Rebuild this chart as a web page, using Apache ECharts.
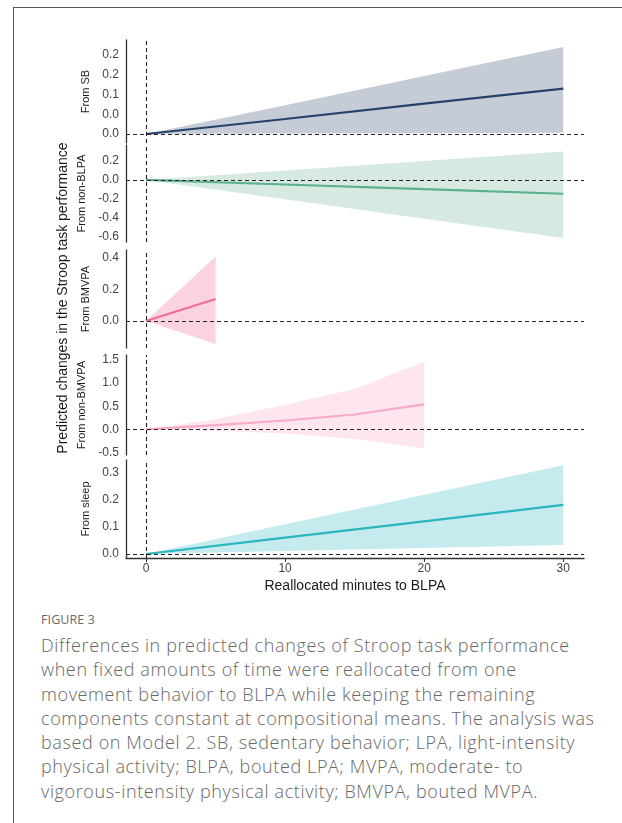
<!DOCTYPE html>
<html>
<head>
<meta charset="utf-8">
<script src="https://cdn.jsdelivr.net/npm/echarts@6/dist/echarts.min.js"></script>
<style>
  html, body { margin: 0; padding: 0; background: #fff; }
  #frame { position: absolute; left: 13px; top: 7px; width: 700px; height: 900px;
           border-left: 1px solid #555; border-top: 1px solid #555; }
  #chart { position: absolute; left: 0; top: 0; width: 622px; height: 600px; }
  #figlabel { position: absolute; left: 41px; top: 611px; font-family: "Open Sans", sans-serif;
              font-size: 12.5px; color: #6a6a6a; letter-spacing: 0.1px; }
  #caption { position: absolute; left: 41px; top: 633px; font-family: "Open Sans", sans-serif;
             font-weight: 300; font-size: 18px; line-height: 24.3px; color: #676767;
             letter-spacing: 0.62px; white-space: nowrap; }
</style>
</head>
<body>
<div id="frame"></div>
<div id="chart"></div>
<div id="figlabel">FIGURE 3</div>
<div id="caption">Differences in predicted changes of Stroop task performance<br>when fixed amounts of time were reallocated from one<br>movement behavior to BLPA while keeping the remaining<br>components constant at compositional means. The analysis was<br>based on Model 2. SB, sedentary behavior; LPA, light-intensity<br>physical activity; BLPA, bouted LPA; MVPA, moderate- to<br>vigorous-intensity physical activity; BMVPA, bouted MVPA.</div>
<script>
// Reallocated minutes (x) and predicted change estimates with 95% bands
const panelNames = ['From SB', 'From non-BLPA', 'From BMVPA', 'From non-BMVPA', 'From sleep'];

const sbMinutes = [0, 10, 20, 30];
const sbEst   = [0, 0.038, 0.077, 0.115];
const sbLow   = [0, 0.001, 0.002, 0.003];
const sbHigh  = [0, 0.073, 0.147, 0.22];

const nblpaMinutes = [0, 10, 20, 30];
const nblpaEst  = [0, -0.048, -0.097, -0.145];
const nblpaLow  = [0, -0.203, -0.407, -0.61];
const nblpaHigh = [0, 0.10, 0.20, 0.30];

const bmvpaMinutes = [0, 5];
const bmvpaEst  = [0, 0.14];
const bmvpaLow  = [0, -0.146];
const bmvpaHigh = [0, 0.41];

const nbmvpaMinutes = [0, 5, 10, 15, 20];
const nbmvpaEst  = [0, 0.09, 0.19, 0.32, 0.54];
const nbmvpaLow  = [0, -0.03, -0.09, -0.21, -0.41];
const nbmvpaHigh = [0, 0.22, 0.53, 0.87, 1.46];

const sleepMinutes = [0, 10, 20, 30];
const sleepEst  = [0, 0.06, 0.12, 0.18];
const sleepLow  = [0, 0.011, 0.022, 0.033];
const sleepHigh = [0, 0.109, 0.217, 0.326];

// y tick values and their printed labels per panel
const sbTicks = [0, 0.05, 0.1, 0.15, 0.2];
const sbTickLabels = ['0.0', '0.0', '0.1', '0.2', '0.2'];
const nblpaTicks = [-0.6, -0.4, -0.2, 0, 0.2];
const nblpaTickLabels = ['-0.6', '-0.4', '-0.2', '0.0', '0.2'];
const bmvpaTicks = [0, 0.2, 0.4];
const bmvpaTickLabels = ['0.0', '0.2', '0.4'];
const nbmvpaTicks = [-0.5, 0, 0.5, 1.0, 1.5];
const nbmvpaTickLabels = ['-0.5', '0.0', '0.5', '1.0', '1.5'];
const sleepTicks = [0, 0.1, 0.2, 0.3];
const sleepTickLabels = ['0.0', '0.1', '0.2', '0.3'];

const xTicks = [0, 10, 20, 30];
const xTickLabels = ['0', '10', '20', '30'];

const panels = [
  { x: sbMinutes, est: sbEst, low: sbLow, high: sbHigh, ticks: sbTicks, labels: sbTickLabels,
    top: 40, bottom: 143, min: -0.0228, max: 0.238, band: '#c6ccd6', line: '#27416a' },
  { x: nblpaMinutes, est: nblpaEst, low: nblpaLow, high: nblpaHigh, ticks: nblpaTicks, labels: nblpaTickLabels,
    top: 145, bottom: 242, min: -0.653, max: 0.368, band: '#d6eae1', line: '#5cb08b' },
  { x: bmvpaMinutes, est: bmvpaEst, low: bmvpaLow, high: bmvpaHigh, ticks: bmvpaTicks, labels: bmvpaTickLabels,
    top: 250, bottom: 348, min: -0.171, max: 0.451, band: '#fbd2e0', line: '#f06c9a' },
  { x: nbmvpaMinutes, est: nbmvpaEst, low: nbmvpaLow, high: nbmvpaHigh, ticks: nbmvpaTicks, labels: nbmvpaTickLabels,
    top: 355, bottom: 455, min: -0.556, max: 1.608, band: '#fde6ee', line: '#f8aac8' },
  { x: sleepMinutes, est: sleepEst, low: sleepLow, high: sleepHigh, ticks: sleepTicks, labels: sleepTickLabels,
    top: 460, bottom: 558, min: -0.0147, max: 0.345, band: '#c6ebee', line: '#2bb6bf' }
];

const grids = [], xAxes = [], yAxes = [], series = [];
const dash = { type: [4, 3], color: '#262626', width: 1.1 };

// Confidence band: one polygon through the upper edge and back along the lower edge
function bandRenderer(p) {
  return function (params, api) {
    if (params.dataIndexInside !== 0) return null;
    const pts = [];
    for (let k = 0; k < p.x.length; k++) pts.push(api.coord([p.x[k], p.high[k]]));
    for (let k = p.x.length - 1; k >= 0; k--) pts.push(api.coord([p.x[k], p.low[k]]));
    return {
      type: 'polygon',
      shape: { points: pts },
      style: { fill: p.band, stroke: null }
    };
  };
}

panels.forEach((p, i) => {
  const last = i === panels.length - 1;
  grids.push({ left: 126, right: 38, top: p.top, height: p.bottom - p.top });
  xAxes.push({
    gridIndex: i, type: 'value', min: -1.44, max: 31.49,
    splitLine: { show: false },
    axisLine: { show: last, onZero: false, lineStyle: { color: '#333', width: 1.3 } },
    axisTick: { show: last, customValues: xTicks, length: 4, lineStyle: { color: '#333' } },
    axisLabel: {
      show: last, customValues: xTicks, color: '#444', fontSize: 12,
      fontFamily: 'Liberation Sans', margin: 5,
      formatter: v => xTickLabels[xTicks.indexOf(v)]
    },
    name: last ? 'Reallocated minutes to BLPA' : '',
    nameLocation: 'middle', nameGap: 21,
    nameTextStyle: { color: '#1a1a1a', fontSize: 14, fontFamily: 'Liberation Sans' }
  });
  yAxes.push({
    gridIndex: i, type: 'value', min: p.min, max: p.max,
    splitLine: { show: false },
    axisLine: { show: true, onZero: false, lineStyle: { color: '#333', width: 1.3 } },
    axisTick: { show: false, customValues: p.ticks },
    axisLabel: {
      customValues: p.ticks, color: '#444', fontSize: 12,
      fontFamily: 'Liberation Sans', margin: 7,
      formatter: v => p.labels[p.ticks.indexOf(v)]
    },
    name: panelNames[i], nameLocation: 'middle', nameGap: 33, nameRotate: 90,
    nameTextStyle: { color: '#1a1a1a', fontSize: 11, fontFamily: 'Liberation Sans' }
  });
  series.push({
    type: 'custom', xAxisIndex: i, yAxisIndex: i,
    data: p.x.map((x, k) => [x, p.low[k], p.high[k]]),
    encode: { x: 0, y: [1, 2] },
    renderItem: bandRenderer(p), silent: true, z: 1
  });
  series.push({
    type: 'line', xAxisIndex: i, yAxisIndex: i,
    data: p.x.map((x, k) => [x, p.est[k]]),
    symbol: 'none', lineStyle: { color: p.line, width: 2.2 }, z: 3,
    markLine: {
      silent: true, symbol: 'none', label: { show: false }, lineStyle: dash, z: 4,
      data: [{ yAxis: 0 }, { xAxis: 0 }]
    }
  });
});

const chart = echarts.init(document.getElementById('chart'), null, { renderer: 'canvas' });
chart.setOption({
  animation: false,
  grid: grids,
  xAxis: xAxes,
  yAxis: yAxes,
  series: series,
  graphic: [{
    type: 'text', rotation: Math.PI / 2,
    x: 63, y: 298,
    style: {
      text: 'Predicted changes in the Stroop task performance',
      fill: '#1a1a1a', fontSize: 14, fontFamily: 'Liberation Sans',
      align: 'center', verticalAlign: 'middle'
    }
  }]
});
</script>
</body>
</html>
